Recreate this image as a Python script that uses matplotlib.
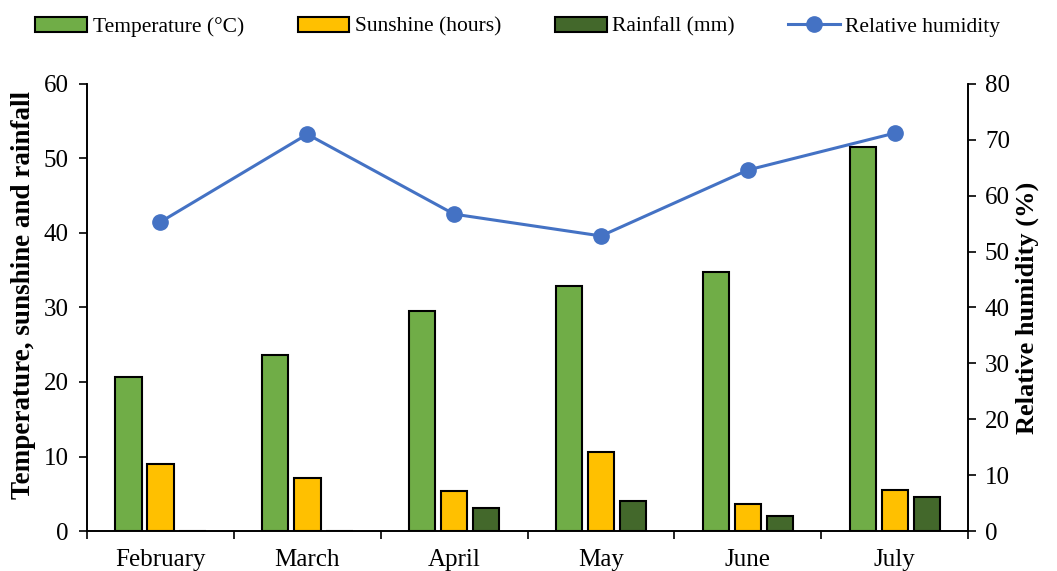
import matplotlib.pyplot as plt
import numpy as np

plt.rcParams['font.family'] = ['Liberation Serif', 'DejaVu Serif']

months = ["February", "March", "April", "May", "June", "July"]
temperature = [20.7, 23.6, 29.5, 32.9, 34.8, 51.5]
sunshine = [9.0, 7.1, 5.4, 10.6, 3.6, 5.5]
rainfall = [0.0, 0.0, 3.1, 4.0, 2.0, 4.6]
humidity = [55.3, 71.0, 56.7, 52.8, 64.6, 71.2]

x = np.arange(len(months))
w = 0.18
step = 0.218

fig = plt.figure(figsize=(10.57, 5.71), dpi=100)
ax = fig.add_axes([0.0823, 0.070, 0.8337, 0.783])
ax2 = ax.twinx()

b1 = ax.bar(x - step, temperature, w, color="#70AD47", edgecolor="black", linewidth=1.5, label="Temperature (°C)")
b2 = ax.bar(x, sunshine, w, color="#FFC000", edgecolor="black", linewidth=1.5, label="Sunshine (hours)")
b3 = ax.bar(x + step, rainfall, w, color="#43682B", edgecolor="black", linewidth=1.5, label="Rainfall (mm)")
l1, = ax2.plot(x, humidity, color="#4472C4", linewidth=2.2, marker="o", markersize=11, label="Relative humidity")

ax.set_xlim(-0.5, 5.5)
ax.set_ylim(0, 60)
ax2.set_ylim(0, 80)
ax.set_yticks(np.arange(0, 61, 10))
ax2.set_yticks(np.arange(0, 81, 10))

ax.set_xticks(x)
ax.set_xticklabels(months, fontsize=18)
ax.set_xticks(np.arange(-0.5, 5.6, 1), minor=True)
ax.tick_params(axis="x", which="major", length=0, pad=13)
ax.tick_params(axis="x", which="minor", length=6, width=1.2, direction="out")
ax.tick_params(axis="y", labelsize=18, length=6, width=1.2, direction="out", pad=7)
ax2.tick_params(axis="y", labelsize=18, length=6, width=1.2, direction="out", pad=6)

for a in (ax, ax2):
    a.spines["top"].set_visible(False)
    for s in ("left", "right", "bottom"):
        a.spines[s].set_linewidth(1.2)

ax.set_ylabel("Temperature, sunshine and rainfall", fontsize=19.5, fontweight="bold")
ax.yaxis.set_label_coords(-0.058, 0.529)
ax2.set_ylabel("Relative humidity (%)", fontsize=19, fontweight="bold", labelpad=4)

fig.legend(handles=[b1, b2, b3, l1], loc="upper center", bbox_to_anchor=(0.49, 1.005),
           ncol=4, frameon=False, fontsize=15.5, handlelength=2.4, columnspacing=2.5,
           handletextpad=0.25)

fig.savefig("out.png", dpi=100)
